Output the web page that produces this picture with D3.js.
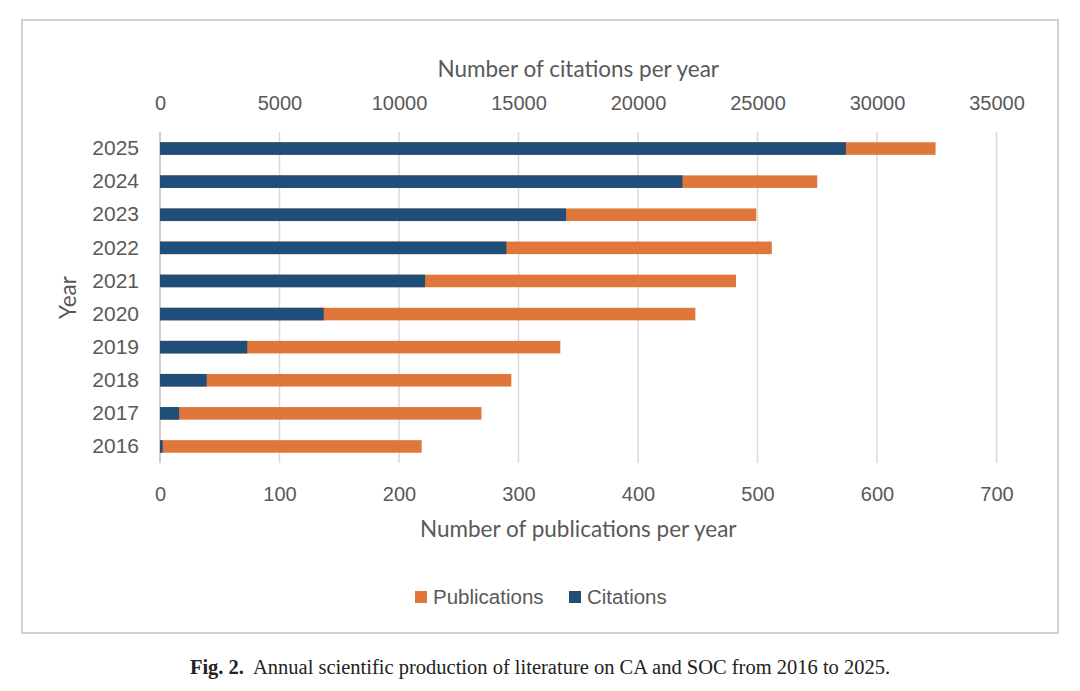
<!DOCTYPE html>
<html>
<head>
<meta charset="utf-8">
<script src="https://cdn.jsdelivr.net/npm/d3@7"></script>
<style>
  body { margin: 0; background: #fff; }
  svg { display: block; }
</style>
</head>
<body>
<svg id="main_graph" width="1080" height="691"></svg>
<script>
// values
var years = ["2016", "2017", "2018", "2019", "2020", "2021", "2022", "2023", "2024", "2025"];
var publications = [219, 269, 294, 335, 448, 482, 512, 499, 550, 649];
var citations = [110, 800, 1950, 3650, 6850, 11090, 14490, 16990, 21860, 28700];
var pub_ticks = [0, 100, 200, 300, 400, 500, 600, 700];
var cit_ticks = [0, 5000, 10000, 15000, 20000, 25000, 30000, 35000];

var blue = "#1f4e79";
var orange = "#e0773a";
var text_grey = "#595959";
var tick_font = "'Liberation Sans', Arial, sans-serif";
var title_font = "Lato, 'Open Sans', sans-serif";

var svg = d3.select("#main_graph");

// outer frame
svg.append("rect")
  .attr("x", 22).attr("y", 20)
  .attr("width", 1036).attr("height", 613)
  .attr("fill", "#fff")
  .attr("stroke", "#d0d0d0")
  .attr("stroke-width", 2);

var plot_left = 160, plot_right = 996.5, plot_top = 132, plot_bottom = 463;

var x_pub = d3.scaleLinear().domain([0, 700]).range([plot_left, plot_right]);
var x_cit = d3.scaleLinear().domain([0, 35000]).range([plot_left, plot_right]);
var y = d3.scaleBand()
  .domain(years.slice().reverse())
  .range([plot_top, plot_bottom])
  .paddingInner(0.62)
  .paddingOuter(0.31);

// gridlines
svg.append("g")
  .selectAll("line")
  .data(pub_ticks.slice(1))
  .join("line")
  .attr("x1", function (d) { return x_pub(d); })
  .attr("x2", function (d) { return x_pub(d); })
  .attr("y1", plot_top).attr("y2", plot_bottom)
  .attr("stroke", "#d9d9d9")
  .attr("stroke-width", 1.5);

// bottom axis (publications)
var bottom_axis = svg.append("g")
  .attr("transform", "translate(0," + (plot_bottom + 21) + ")")
  .call(d3.axisBottom(x_pub).tickValues(pub_ticks).tickSize(0).tickFormat(d3.format("d")));
bottom_axis.select(".domain").remove();
bottom_axis.selectAll("text")
  .attr("fill", text_grey)
  .style("font-family", tick_font)
  .style("font-size", "20px");

// top axis (citations)
var top_axis = svg.append("g")
  .attr("transform", "translate(0," + (plot_top - 19) + ")")
  .call(d3.axisTop(x_cit).tickValues(cit_ticks).tickSize(0).tickFormat(d3.format("d")));
top_axis.select(".domain").remove();
top_axis.selectAll("text")
  .attr("fill", text_grey)
  .style("font-family", tick_font)
  .style("font-size", "20px");

// left axis (years)
var left_axis = svg.append("g")
  .attr("transform", "translate(" + (plot_left - 18) + ",0)")
  .call(d3.axisLeft(y).tickSize(0));
left_axis.select(".domain").remove();
left_axis.selectAll("text")
  .attr("fill", text_grey)
  .style("font-family", tick_font)
  .style("font-size", "21px");

svg.append("line")
  .attr("x1", plot_left).attr("x2", plot_left)
  .attr("y1", plot_top).attr("y2", plot_bottom)
  .attr("stroke", "#bfbfbf")
  .attr("stroke-width", 1.5);

// bars: publications underneath, citations on top
svg.append("g")
  .selectAll("rect")
  .data(years)
  .join("rect")
  .attr("x", x_pub(0))
  .attr("y", function (d) { return y(d); })
  .attr("width", function (d, i) { return x_pub(publications[i]) - x_pub(0); })
  .attr("height", y.bandwidth())
  .attr("fill", orange);

svg.append("g")
  .selectAll("rect")
  .data(years)
  .join("rect")
  .attr("x", x_cit(0))
  .attr("y", function (d) { return y(d); })
  .attr("width", function (d, i) { return x_cit(citations[i]) - x_cit(0); })
  .attr("height", y.bandwidth())
  .attr("fill", blue);

// axis titles
svg.append("text")
  .attr("x", (plot_left + plot_right) / 2).attr("y", 77)
  .attr("text-anchor", "middle")
  .attr("fill", text_grey)
  .style("font-family", title_font)
  .style("font-size", "22.5px")
  .text("Number of citations per year");

svg.append("text")
  .attr("x", (plot_left + plot_right) / 2).attr("y", 537)
  .attr("text-anchor", "middle")
  .attr("fill", text_grey)
  .style("font-family", title_font)
  .style("font-size", "22.5px")
  .text("Number of publications per year");

svg.append("text")
  .attr("transform", "translate(76," + ((plot_top + plot_bottom) / 2) + ") rotate(-90)")
  .attr("text-anchor", "middle")
  .attr("fill", text_grey)
  .style("font-family", title_font)
  .style("font-size", "22.5px")
  .text("Year");

// legend
var legend = [
  { name: "Publications", color: orange, x: 415 },
  { name: "Citations", color: blue, x: 569 }
];
var lg = svg.append("g").selectAll("g").data(legend).join("g")
  .attr("transform", function (d) { return "translate(" + d.x + ",597)"; });
lg.append("rect")
  .attr("x", 0).attr("y", -6)
  .attr("width", 12).attr("height", 12)
  .attr("fill", function (d) { return d.color; });
lg.append("text")
  .attr("x", 18).attr("y", 7)
  .attr("fill", text_grey)
  .style("font-family", tick_font)
  .style("font-size", "20.5px")
  .text(function (d) { return d.name; });

// caption
var cap = svg.append("text")
  .attr("x", 540).attr("y", 674)
  .attr("text-anchor", "middle")
  .attr("fill", "#222")
  .style("font-family", "'Liberation Serif', 'DejaVu Serif', serif")
  .style("font-size", "20.5px");
cap.append("tspan").style("font-weight", "bold").text("Fig. 2.");
cap.append("tspan").attr("dx", 9).text("Annual scientific production of literature on CA and SOC from 2016 to 2025.");
</script>
</body>
</html>
